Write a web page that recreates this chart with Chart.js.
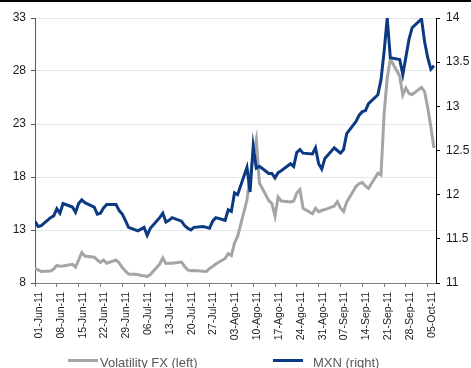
<!DOCTYPE html>
<html>
<head>
<meta charset="utf-8">
<script src="https://cdn.jsdelivr.net/npm/chart.js@4.4.0/dist/chart.umd.min.js"></script>
<style>
  html, body { margin: 0; padding: 0; background: #fff; }
  #wrap { position: relative; width: 471px; height: 368px; overflow: hidden;
          font-family: "Liberation Sans", Arial, sans-serif; }
  #topRule { position: absolute; left: 0; top: 0; width: 471px; height: 2px; background: #000; }
  #chart { position: absolute; left: 0; top: 0; }
  .key { position: absolute; top: 356px; font-size: 13px; line-height: 13px; color: #595959; white-space: nowrap; }
  .swatch { position: absolute; top: 359px; width: 30px; height: 3px; }
</style>
</head>
<body>
<div id="wrap">
  <canvas id="chart" width="471" height="368"></canvas>
  <div id="topRule"></div>
</div>
<script>
// Trading days, 1 Jun 2011 - 7 Oct 2011
const tradeDates = [
  '2011-06-01','2011-06-02','2011-06-03','2011-06-06','2011-06-07','2011-06-08','2011-06-09','2011-06-10',
  '2011-06-13','2011-06-14','2011-06-15','2011-06-16','2011-06-17','2011-06-20','2011-06-21','2011-06-22',
  '2011-06-23','2011-06-24','2011-06-27','2011-06-28','2011-06-29','2011-06-30',
  '2011-07-01','2011-07-04','2011-07-05','2011-07-06','2011-07-07','2011-07-08','2011-07-11','2011-07-12',
  '2011-07-13','2011-07-14','2011-07-15','2011-07-18','2011-07-19','2011-07-20','2011-07-21','2011-07-22',
  '2011-07-25','2011-07-26','2011-07-27','2011-07-28','2011-07-29',
  '2011-08-01','2011-08-02','2011-08-03','2011-08-04','2011-08-05','2011-08-08','2011-08-09','2011-08-10',
  '2011-08-11','2011-08-12','2011-08-15','2011-08-16','2011-08-17','2011-08-18','2011-08-19','2011-08-22',
  '2011-08-23','2011-08-24','2011-08-25','2011-08-26','2011-08-29','2011-08-30','2011-08-31',
  '2011-09-01','2011-09-02','2011-09-05','2011-09-06','2011-09-07','2011-09-08','2011-09-09','2011-09-12',
  '2011-09-13','2011-09-14','2011-09-15','2011-09-16','2011-09-19','2011-09-20','2011-09-21','2011-09-22',
  '2011-09-23','2011-09-26','2011-09-27','2011-09-28','2011-09-29','2011-09-30',
  '2011-10-03','2011-10-04','2011-10-05','2011-10-06','2011-10-07'
];

// FX implied volatility (left axis)
const volatilityFx = [
  9.39, 9.23, 9.09, 9.13, 9.32, 9.65, 9.58, 9.60, 9.76, 9.51, 10.17, 10.88, 10.55, 10.43, 10.17, 9.95,
  10.17, 9.86, 10.17, 9.89, 9.46, 9.13,
  8.85, 8.80, 8.71, 8.69, 8.61, 8.80, 9.79, 10.36, 9.84, 9.86, 9.86, 9.98, 9.56, 9.23, 9.16, 9.18,
  9.10, 9.09, 9.37, 9.56, 9.79,
  10.31, 10.78, 10.59, 11.77, 12.39, 15.83, 18.09, 20.08, 21.54, 17.43, 15.78, 15.50, 14.32, 16.11, 15.74, 15.64,
  15.74, 16.49, 16.82, 15.05, 14.54, 15.05, 14.73,
  14.84, 14.93, 15.26, 15.67, 15.08, 14.75, 15.64, 17.10, 17.39, 17.48, 17.15, 16.93, 18.35, 18.19, 23.94, 27.34,
  29.13, 27.53, 25.74, 26.40, 25.88, 25.78,
  26.46, 26.05, 24.51, 22.72, 20.74
];

// USD/MXN spot (right axis)
const mxn = [
  11.70, 11.64, 11.65, 11.74, 11.76, 11.84, 11.79, 11.90, 11.86, 11.80, 11.90, 11.94, 11.91, 11.86, 11.78, 11.79,
  11.85, 11.89, 11.89, 11.82, 11.78, 11.71,
  11.63, 11.59, 11.61, 11.63, 11.54, 11.62, 11.74, 11.79, 11.69, 11.71, 11.74, 11.70, 11.65, 11.62, 11.60, 11.63,
  11.64, 11.63, 11.62, 11.70, 11.74,
  11.71, 11.83, 11.81, 12.02, 12.00, 12.31, 12.03, 12.55, 12.30, 12.32, 12.24, 12.24, 12.19, 12.25, 12.27, 12.35,
  12.32, 12.48, 12.51, 12.47, 12.46, 12.53, 12.35,
  12.29, 12.41, 12.53, 12.50, 12.47, 12.51, 12.69, 12.83, 12.90, 12.94, 12.95, 13.03, 13.13, 13.30, 13.62, 14.00,
  13.55, 13.53, 13.36, 13.56, 13.76, 13.89,
  13.99, 13.73, 13.55, 13.42, 13.46
];

const seriesNames = ['Volatility FX (left)', 'MXN (right)'];
const seriesColors = ['#a5a5a5', '#0b3a82'];

const tickDates = [
  '2011-06-01','2011-06-08','2011-06-15','2011-06-22','2011-06-29','2011-07-06','2011-07-13','2011-07-20',
  '2011-07-27','2011-08-03','2011-08-10','2011-08-17','2011-08-24','2011-08-31','2011-09-07','2011-09-14',
  '2011-09-21','2011-09-28','2011-10-05'
];
const tickLabels = [
  '01-Jun-11','08-Jun-11','15-Jun-11','22-Jun-11','29-Jun-11','06-Jul-11','13-Jul-11','20-Jul-11',
  '27-Jul-11','03-Ago-11','10-Ago-11','17-Ago-11','24-Ago-11','31-Ago-11','07-Sep-11','14-Sep-11',
  '21-Sep-11','28-Sep-11','05-Oct-11'
];

const leftTicks = [8, 13, 18, 23, 28, 33];
const rightTicks = [11, 11.5, 12, 12.5, 13, 13.5, 14];

// days elapsed since the first trading date
const origin = Date.UTC(2011, 5, 1);
function dayNum(s) {
  return (Date.UTC(+s.slice(0, 4), +s.slice(5, 7) - 1, +s.slice(8, 10)) - origin) / 86400000;
}
const toPoints = vals => vals.map((v, i) => ({ x: dayNum(tradeDates[i]), y: v }));

const FONT = '"Liberation Sans", Arial, sans-serif';

new Chart(document.getElementById('chart'), {
  type: 'line',
  data: {
    datasets: [
      {
        label: seriesNames[0], data: toPoints(volatilityFx), yAxisID: 'yL',
        borderColor: seriesColors[0], borderWidth: 3, pointRadius: 0, tension: 0, order: 1
      },
      {
        label: seriesNames[1], data: toPoints(mxn), yAxisID: 'yR',
        borderColor: seriesColors[1], borderWidth: 3, pointRadius: 0, tension: 0, order: 0
      }
    ]
  },
  options: {
    responsive: false,
    animation: false,
    events: [],
    layout: { padding: { top: 18, left: 0, right: 0, bottom: 25 } },
    plugins: { legend: { display: false }, tooltip: { enabled: false } },
    scales: {
      x: {
        type: 'linear',
        min: 0,
        max: 128.65,
        afterBuildTicks: s => { s.ticks = tickDates.map(d => ({ value: dayNum(d) })); },
        afterFit: s => { s.height = 60; },
        border: { display: true, color: '#808080', width: 1 },
        grid: { drawOnChartArea: false, drawTicks: true, tickLength: 4, tickColor: '#808080' },
        ticks: {
          autoSkip: false, minRotation: 90, maxRotation: 90, padding: 5, labelOffset: 4,
          color: '#1a1a1a', font: { family: FONT, size: 10.5 },
          callback: (v, i) => tickLabels[i]
        }
      },
      yL: {
        position: 'left',
        min: 8, max: 33,
        afterBuildTicks: s => { s.ticks = leftTicks.map(v => ({ value: v })); },
        afterFit: s => { s.width = 35; },
        border: { display: true, color: '#595959', width: 1 },
        grid: {
          color: c => (c.tick && c.tick.value === 8 ? 'rgba(0,0,0,0)' : '#e6e6ee'),
          lineWidth: 1, tickLength: 4, tickColor: '#595959'
        },
        ticks: { padding: 5, color: '#1a1a1a', font: { family: FONT, size: 12 } }
      },
      yR: {
        position: 'right',
        min: 11, max: 14,
        afterBuildTicks: s => { s.ticks = rightTicks.map(v => ({ value: v })); },
        afterFit: s => { s.width = 35; },
        border: { display: true, color: '#000', width: 1 },
        grid: { drawOnChartArea: false, tickLength: 4, tickColor: '#000' },
        ticks: {
          padding: 6, color: '#1a1a1a', font: { family: FONT, size: 12 },
          callback: v => String(v)
        }
      }
    }
  }
});

// legend row under the axis
const wrap = document.getElementById('wrap');
const keyPos = [{ sw: 68, tx: 100 }, { sw: 273, tx: 313 }];
seriesNames.forEach((name, i) => {
  const sw = document.createElement('div');
  sw.className = 'swatch';
  sw.style.left = keyPos[i].sw + 'px';
  sw.style.background = seriesColors[i];
  wrap.appendChild(sw);
  const tx = document.createElement('div');
  tx.className = 'key';
  tx.style.left = keyPos[i].tx + 'px';
  tx.textContent = name;
  wrap.appendChild(tx);
});
</script>
</body>
</html>
